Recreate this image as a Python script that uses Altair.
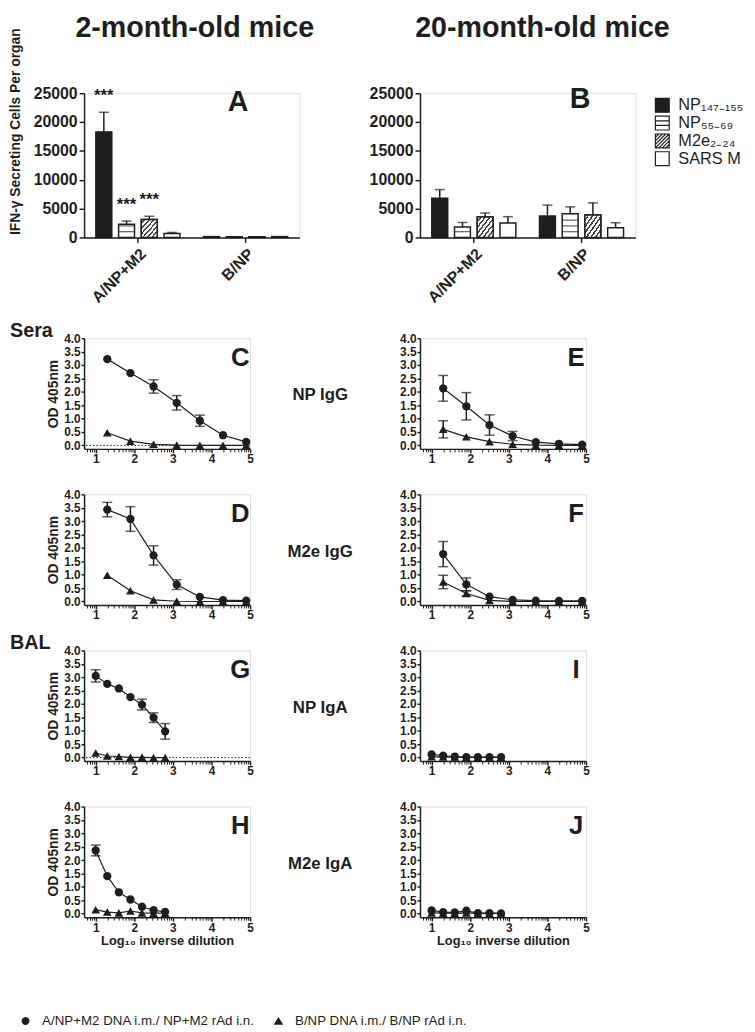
import math
import altair as alt
import pandas as pd

FONT = "Liberation Sans"
INK = "#1e1e1e"

# ---------------- bar panels (IFN-gamma ELISPOT) ----------------
GROUPS = ["A/NP+M2", "B/NP"]
SERIES = ["NP₁₄₇₋₁₅₅", "NP₅₅₋₆₉", "M2e₂₋₂₄", "SARS M"]
BAR_TICKS = [0, 5000, 10000, 15000, 20000, 25000]

# group-major order: A/NP+M2 x 4 series, then B/NP x 4 series
A_MEAN = [18300, 2300, 3100, 700, 150, 120, 120, 150]
A_ERR = [3400, 550, 570, 170, 0, 0, 0, 0]
A_STARS = ["***", "***", "***", "", "", "", "", ""]

B_MEAN = [6800, 1800, 3550, 2500, 3700, 4100, 3900, 1700]
B_ERR = [1500, 800, 680, 1100, 1900, 1200, 2100, 850]
B_STARS = ["", "", "", "", "", "", "", ""]

# ---------------- antibody curves ----------------
X_SERA = [1.3, 1.9, 2.5, 3.1, 3.7, 4.3, 4.9]
X_BAL = [1.0, 1.3, 1.6, 1.9, 2.2, 2.5, 2.8]
X_TICKS = [1, 2, 3, 4, 5]
X_MINOR = [round(math.log10(k * 10 ** n), 4) for n in range(0, 5) for k in range(2, 10)
           if 0.70 < math.log10(k * 10 ** n) < 5]
OD_TICKS = [0.0, 0.5, 1.0, 1.5, 2.0, 2.5, 3.0, 3.5, 4.0]

C_CIRC = [3.22, 2.70, 2.20, 1.59, 0.92, 0.38, 0.13]
C_CIRC_ERR = [0, 0, 0.25, 0.27, 0.21, 0, 0]
C_TRI = [0.47, 0.16, 0.04, 0.01, 0.0, 0.0, 0.0]
C_TRI_ERR = [0, 0, 0, 0, 0, 0, 0]

E_CIRC = [2.13, 1.46, 0.76, 0.35, 0.12, 0.06, 0.03]
E_CIRC_ERR = [0.48, 0.51, 0.38, 0.17, 0, 0, 0]
E_TRI = [0.60, 0.32, 0.14, 0.04, 0.01, 0.0, 0.0]
E_TRI_ERR = [0.32, 0, 0, 0, 0, 0, 0]

D_CIRC = [3.43, 3.08, 1.72, 0.63, 0.17, 0.05, 0.03]
D_CIRC_ERR = [0.27, 0.46, 0.36, 0.18, 0, 0, 0]
D_TRI = [0.98, 0.40, 0.06, 0.01, 0.0, 0.0, 0.0]
D_TRI_ERR = [0, 0, 0, 0, 0, 0, 0]

F_CIRC = [1.77, 0.64, 0.18, 0.06, 0.03, 0.02, 0.02]
F_CIRC_ERR = [0.47, 0.24, 0, 0, 0, 0, 0]
F_TRI = [0.73, 0.30, 0.04, 0.0, 0.0, 0.0, 0.0]
F_TRI_ERR = [0.25, 0.10, 0, 0, 0, 0, 0]

G_CIRC = [3.05, 2.75, 2.58, 2.26, 1.98, 1.49, 0.98]
G_CIRC_ERR = [0.23, 0, 0, 0, 0.20, 0.18, 0.29]
G_TRI = [0.17, 0.06, 0.04, 0.01, 0.01, 0.0, 0.0]
G_TRI_ERR = [0, 0, 0, 0, 0, 0, 0]

I_CIRC = [0.12, 0.07, 0.04, 0.02, 0.02, 0.02, 0.02]
I_CIRC_ERR = [0, 0, 0, 0, 0, 0, 0]
I_TRI = [0.03, 0.02, 0.02, 0.01, 0.01, 0.01, 0.01]
I_TRI_ERR = [0, 0, 0, 0, 0, 0, 0]

H_CIRC = [2.36, 1.40, 0.80, 0.53, 0.26, 0.13, 0.07]
H_CIRC_ERR = [0.20, 0, 0, 0, 0, 0, 0]
H_TRI = [0.15, 0.06, 0.03, 0.10, 0.03, 0.02, 0.02]
H_TRI_ERR = [0, 0, 0, 0, 0, 0, 0]

J_CIRC = [0.12, 0.06, 0.05, 0.11, 0.02, 0.02, 0.01]
J_CIRC_ERR = [0, 0, 0, 0, 0, 0, 0]
J_TRI = [0.03, 0.02, 0.02, 0.03, 0.01, 0.01, 0.01]
J_TRI_ERR = [0, 0, 0, 0, 0, 0, 0]

LEGEND_LABELS = ["A/NP+M2 DNA i.m./ NP+M2 rAd i.n.", "B/NP DNA i.m./ B/NP rAd i.n."]

# legend symbol shapes (unit-box SVG paths)
SQ = "M-1,-1H1V1H-1Z"
BAR_SYMBOLS = [
    SQ,
    SQ + " M-1,-0.33H1 M-1,0.33H1",
    SQ + " M-1,-0.5L-0.5,-1 M-1,0L0,-1 M-1,0.5L0.5,-1 M-1,1L1,-1 M-0.5,1L1,-0.5 M0,1L1,0 M0.5,1L1,0.5",
    SQ,
]
CURVE_SYMBOLS = [
    "M-2,0H2 M-1,0A1,1,0,1,0,1,0A1,1,0,1,0,-1,0Z",
    "M-2,0.3H2 M0,-1.05L1.2,0.95H-1.2Z",
]


def hatch_gradient(n=7):
    stops = []
    for k in range(n):
        a = k / n
        b = (k + 0.6) / n
        c = (k + 1) / n
        stops += [
            alt.GradientStop(color="white", offset=a),
            alt.GradientStop(color="white", offset=b),
            alt.GradientStop(color="#444444", offset=b),
            alt.GradientStop(color="#444444", offset=c),
        ]
    return alt.LinearGradient(gradient="linear", stops=stops, x1=0, y1=0, x2=1, y2=1)


def text_layer(txt, x, y, size, weight="bold", align="center", baseline="middle", angle=0, font=FONT):
    props = dict(fontSize=size, fontWeight=weight, align=align, baseline=baseline, color=INK, font=font)
    if angle:
        props["angle"] = angle
    return alt.Chart(pd.DataFrame({"t": [txt]})).mark_text(**props).encode(
        x=alt.value(x), y=alt.value(y), text="t:N")


def bar_panel(mean, err, stars, letter, letter_xy, title, title_x, ytitle=False, legend=False):
    rows = []
    i = 0
    for g in GROUPS:
        for s in SERIES:
            rows.append({"group": g, "series": s, "mean": mean[i], "err": err[i], "star": stars[i]})
            i += 1
    df = pd.DataFrame(rows)
    df["top"] = df["mean"] + df["err"]
    stripe_rows = []
    for r in rows:
        if r["series"] == SERIES[1]:
            lv = 1000
            while lv < r["mean"] - 250:
                stripe_rows.append({"group": r["group"], "series": r["series"], "level": lv})
                lv += 1000
    sdf = pd.DataFrame(stripe_rows)

    xaxis = alt.Axis(title=None, labelAngle=315, labelFontSize=16, labelPadding=3, tickSize=5,
                     domainWidth=1.5, tickWidth=1.5)
    xenc = alt.X("group:N", scale=alt.Scale(domain=GROUPS, paddingInner=0, paddingOuter=0), axis=xaxis)
    xoff = alt.XOffset("series:N", scale=alt.Scale(domain=SERIES, paddingInner=0.3, paddingOuter=0.52))
    yscale = alt.Scale(domain=[0, 25000], nice=False)
    yaxis = alt.Axis(values=BAR_TICKS, format="d", title=None, labelFontSize=16, tickSize=5,
                     labelPadding=2, domainWidth=1.5, tickWidth=1.5, labelFlush=False, labelOverlap=False)

    def Y(f):
        return alt.Y(f, scale=yscale, axis=yaxis)

    bars = alt.Chart(df).mark_bar(stroke=INK, strokeWidth=1.5).encode(
        x=xenc, xOffset=xoff, y=Y("mean:Q"),
        fill=alt.Fill("series:N", scale=alt.Scale(domain=SERIES, range=[INK, "white", "white", "white"]),
                      legend=None))
    hatch = alt.Chart(df).transform_filter(alt.datum.series == SERIES[2]).mark_bar(
        fill=hatch_gradient(), stroke=INK, strokeWidth=1.5).encode(x=xenc, xOffset=xoff, y=Y("mean:Q"))
    stripes = alt.Chart(sdf).mark_tick(orient="horizontal", size=15, thickness=1.2, color=INK).encode(
        x=xenc, xOffset=xoff, y=Y("level:Q"))
    errs = alt.Chart(df).transform_filter("datum.err > 0").mark_rule(color=INK, strokeWidth=1.5).encode(
        x=xenc, xOffset=xoff, y=Y("mean:Q"), y2="top:Q")
    caps = alt.Chart(df).transform_filter("datum.err > 0").mark_tick(
        orient="horizontal", size=10, thickness=1.5, color=INK).encode(x=xenc, xOffset=xoff, y=Y("top:Q"))
    layers = [bars, hatch, stripes, errs, caps]
    if any(stars):
        layers.append(alt.Chart(df).transform_filter("datum.star != ''").mark_text(
            fontSize=17, fontWeight="bold", baseline="middle", dy=-16, color=INK).encode(
            x=xenc, xOffset=xoff, y=Y("top:Q"), text="star:N"))
    layers.append(text_layer(letter, letter_xy[0], letter_xy[1], 29))
    layers.append(text_layer(title, title_x, -80, 29, baseline="top"))
    if ytitle:
        layers.append(text_layer("IFN-γ Secreting Cells Per organ", -69, 39, 14, angle=270))
    if legend:
        leg = alt.Legend(title=None, orient="none", legendX=237, legendY=4, symbolSize=196,
                         labelFontSize=16.5, labelFontWeight="normal", labelColor=INK, labelOffset=8,
                         rowPadding=-3, symbolStrokeWidth=1.2, symbolStrokeColor=INK, labelLimit=300,
                         padding=0)
        layers.append(
            alt.Chart(pd.DataFrame({"series": SERIES})).transform_filter("false").mark_point(
                filled=True, stroke=INK, strokeWidth=1.2, opacity=1).encode(
                shape=alt.Shape("series:N", scale=alt.Scale(domain=SERIES, range=BAR_SYMBOLS), legend=leg),
                color=alt.Color("series:N", scale=alt.Scale(domain=SERIES, range=[INK, "white", "white", "white"]),
                                legend=leg)))
    return alt.layer(*layers).properties(width=218, height=146)


def curve_panel(xs, circ, circ_err, tri, tri_err, letter, label=None, section=None, left=True,
                bottom=False, dotted=False, legend=False):
    rows = []
    for i, xv in enumerate(xs):
        rows.append({"x": xv, "grp": "tri", "y": tri[i], "e": tri_err[i]})
    for i, xv in enumerate(xs):
        rows.append({"x": xv, "grp": "circ", "y": circ[i], "e": circ_err[i]})
    df = pd.DataFrame(rows)
    df["lo"] = df["y"] - df["e"]
    df["hi"] = df["y"] + df["e"]

    xscale = alt.Scale(domain=[0.699, 5], nice=False, zero=False)
    yscale = alt.Scale(domain=[-0.13, 4], nice=False, zero=False)
    major_kw = dict(orient="bottom", values=X_TICKS, format="d", labelFontSize=12, tickSize=4,
                    labelPadding=1, domainWidth=1.5, tickWidth=1.5, labelFlush=False)
    if bottom:
        major_kw.update(title="Log₁₀ inverse dilution", titleFontSize=13, titlePadding=2)
    else:
        major_kw.update(title=None)
    major = alt.Axis(**major_kw)
    minor = alt.Axis(orient="bottom", values=X_MINOR, labels=False, domain=False, tickSize=3,
                     tickWidth=1, title=None)
    y_kw = dict(values=OD_TICKS, format=".1f", labelFontSize=12, tickSize=3, labelPadding=1,
                domainWidth=1.5, tickWidth=1.5, labelFlush=False, labelOverlap=False)
    if left:
        y_kw.update(title="OD 405nm", titleFontSize=14, titlePadding=3)
    else:
        y_kw.update(title=None)
    yaxis = alt.Axis(**y_kw)

    def Y(f):
        return alt.Y(f, scale=yscale, axis=yaxis)

    def X(ax=None):
        if ax is None:
            return alt.X("x:Q", scale=xscale, axis=None)
        return alt.X("x:Q", scale=xscale, axis=ax)

    layers = []
    if dotted:
        layers.append(alt.Chart(pd.DataFrame({"z": [0.0]})).mark_rule(
            strokeDash=[1.5, 2], strokeWidth=1, color=INK).encode(y=Y("z:Q")))
    eb = alt.Chart(df).transform_filter("datum.e > 0")
    layers.append(eb.mark_rule(color=INK, strokeWidth=1.5).encode(x=X(), y=Y("lo:Q"), y2="hi:Q"))
    layers.append(eb.mark_tick(orient="horizontal", size=10, thickness=1.5, color=INK).encode(x=X(), y=Y("hi:Q")))
    layers.append(eb.mark_tick(orient="horizontal", size=10, thickness=1.5, color=INK).encode(x=X(), y=Y("lo:Q")))
    layers.append(alt.Chart(df).mark_line(color=INK, strokeWidth=1.2).encode(
        x=X(major), y=Y("y:Q"), detail="grp:N", order="x:Q"))
    layers.append(alt.Chart(df).transform_filter(alt.datum.grp == "tri").mark_point(
        shape="triangle-up", filled=True, size=78, color=INK, opacity=1).encode(x=X(minor), y=Y("y:Q")))
    layers.append(alt.Chart(df).transform_filter(alt.datum.grp == "circ").mark_point(
        shape="circle", filled=True, size=70, color=INK, opacity=1).encode(x=X(), y=Y("y:Q")))
    layers.append(text_layer(letter, 158, 20, 26))
    if label:
        layers.append(text_layer(label, 239, 58, 17))
    if section:
        layers.append(text_layer(section, -75, -7, 20, align="left"))
    if legend:
        leg = alt.Legend(title=None, orient="none", legendX=-66, legendY=210, direction="horizontal",
                         symbolSize=64, symbolStrokeWidth=1.3, symbolStrokeColor=INK, symbolFillColor=INK,
                         labelFontSize=13.5, labelFontWeight="normal", labelColor=INK, labelOffset=10,
                         labelFont="Liberation Sans Narrow, Liberation Sans", columnPadding=13,
                         labelLimit=400, padding=0)
        layers.append(
            alt.Chart(pd.DataFrame({"leg": LEGEND_LABELS})).transform_filter("false").mark_point(
                filled=True, color=INK, stroke=INK, strokeWidth=1.3, opacity=1).encode(
                shape=alt.Shape("leg:N", scale=alt.Scale(domain=LEGEND_LABELS, range=CURVE_SYMBOLS),
                                legend=leg)))
    return alt.layer(*layers).resolve_axis(x="independent").properties(width=168, height=112)


def spacer():
    return alt.Chart(pd.DataFrame({"t": [""]})).mark_point(opacity=0, size=1).encode(
        x=alt.value(0), y=alt.value(0)).properties(
        width=10, height=10, view=alt.ViewBackground(stroke=None, strokeWidth=0))


pA = bar_panel(A_MEAN, A_ERR, A_STARS, "A", (156, 9), "2-month-old mice", 112, ytitle=True)
pB = bar_panel(B_MEAN, B_ERR, B_STARS, "B", (162, 6), "20-month-old mice", 124, legend=True)

pC = curve_panel(X_SERA, C_CIRC, C_CIRC_ERR, C_TRI, C_TRI_ERR, "C", "NP IgG", "Sera", dotted=True)
pE = curve_panel(X_SERA, E_CIRC, E_CIRC_ERR, E_TRI, E_TRI_ERR, "E", left=False)
pD = curve_panel(X_SERA, D_CIRC, D_CIRC_ERR, D_TRI, D_TRI_ERR, "D", "M2e IgG")
pF = curve_panel(X_SERA, F_CIRC, F_CIRC_ERR, F_TRI, F_TRI_ERR, "F", left=False)
pG = curve_panel(X_BAL, G_CIRC, G_CIRC_ERR, G_TRI, G_TRI_ERR, "G", "NP IgA", "BAL", dotted=True)
pI = curve_panel(X_BAL, I_CIRC, I_CIRC_ERR, I_TRI, I_TRI_ERR, "I", left=False)
pH = curve_panel(X_BAL, H_CIRC, H_CIRC_ERR, H_TRI, H_TRI_ERR, "H", "M2e IgA", bottom=True, legend=True)
pJ = curve_panel(X_BAL, J_CIRC, J_CIRC_ERR, J_TRI, J_TRI_ERR, "J", left=False, bottom=True)

chart = alt.concat(
    pA, pB, spacer(), spacer(), pC, pE, pD, pF, pG, pI, pH, pJ,
    columns=2, spacing={"row": 46, "column": 122}, bounds="flush", align="each",
).resolve_scale(
    x="independent", y="independent", xOffset="independent", shape="independent", color="independent"
).properties(
    padding={"left": 0, "top": -1, "right": 2, "bottom": 0}
).configure_view(stroke=None).configure(font=FONT).configure_axis(
    grid=False, domainColor=INK, tickColor=INK, labelColor=INK, titleColor=INK,
    labelFontWeight="bold", titleFontWeight="bold", labelFont=FONT, titleFont=FONT)

chart.save("out.html", embed_options={"renderer": "svg", "actions": False})
